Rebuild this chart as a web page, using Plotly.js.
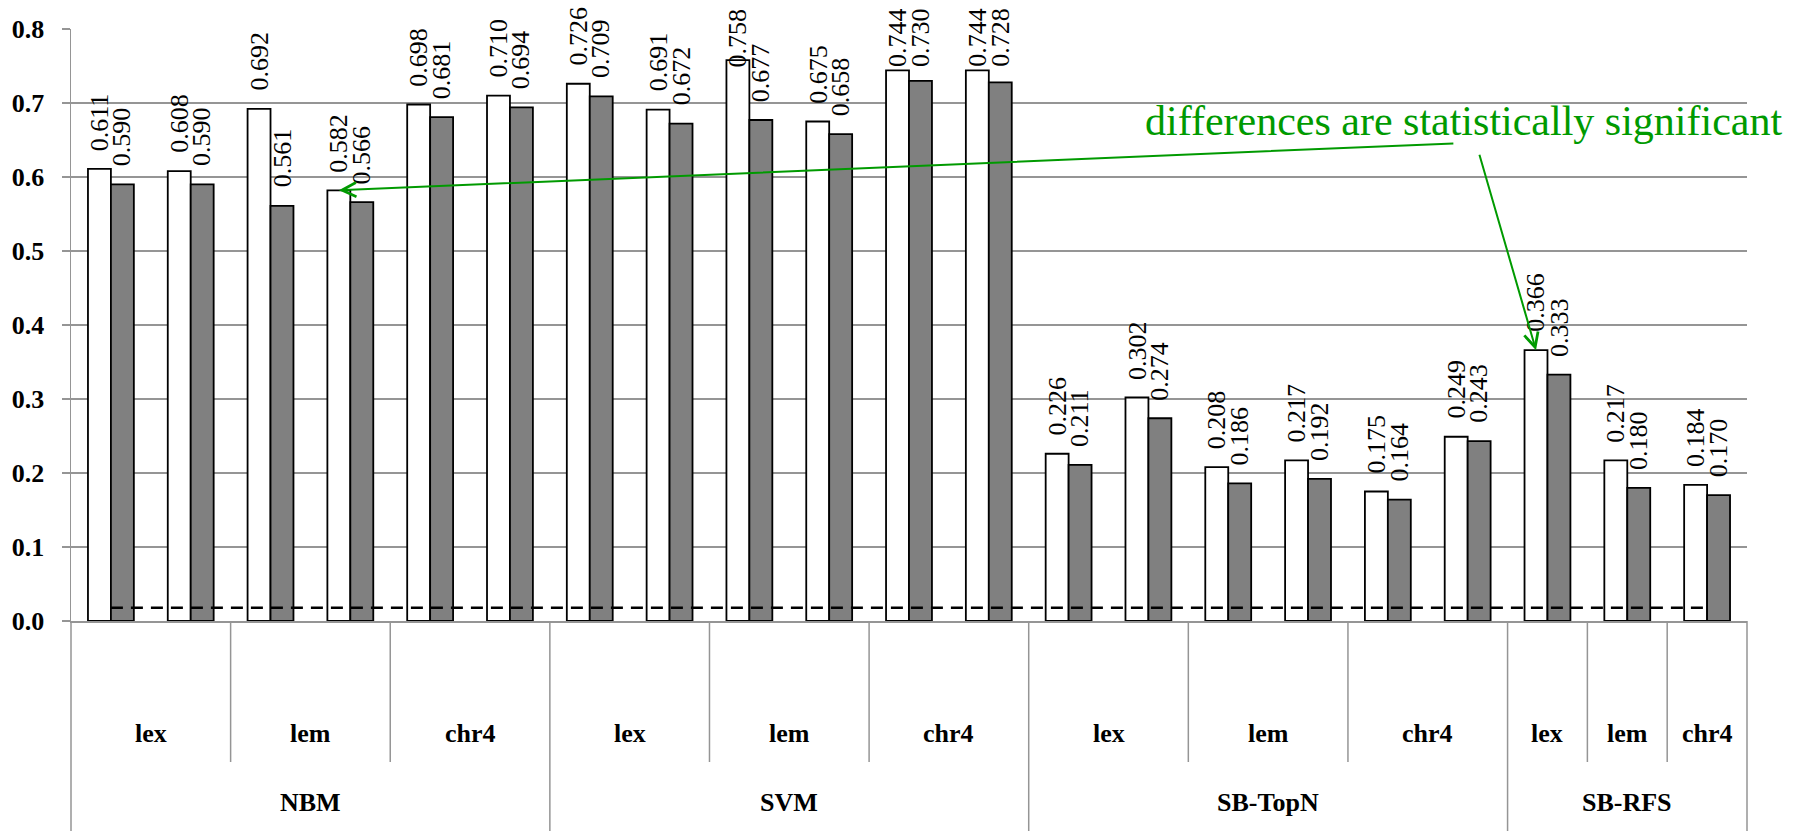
<!DOCTYPE html>
<html>
<head>
<meta charset="utf-8">
<script src="https://cdn.plot.ly/plotly-3.0.1.min.js"></script>
<style>html,body{margin:0;padding:0;background:#fff;}</style>
</head>
<body>
<div id="chart" style="width:1804px;height:831px;"></div>
<script>
// ---------------- data ----------------
const methods  = ['NBM','NBM','NBM','NBM','NBM','NBM',
                  'SVM','SVM','SVM','SVM','SVM','SVM',
                  'SB-TopN','SB-TopN','SB-TopN','SB-TopN','SB-TopN','SB-TopN',
                  'SB-RFS','SB-RFS','SB-RFS'];
const features = ['lex','lex','lem','lem','chr4','chr4',
                  'lex','lex','lem','lem','chr4','chr4',
                  'lex','lex','lem','lem','chr4','chr4',
                  'lex','lem','chr4'];
const whiteValues = [0.611,0.608,0.692,0.582,0.698,0.710,
                     0.726,0.691,0.758,0.675,0.744,0.744,
                     0.226,0.302,0.208,0.217,0.175,0.249,
                     0.366,0.217,0.184];
const grayValues  = [0.590,0.590,0.561,0.566,0.681,0.694,
                     0.709,0.672,0.677,0.658,0.730,0.728,
                     0.211,0.274,0.186,0.192,0.164,0.243,
                     0.333,0.180,0.170];
const baselineValues = [0.018,0.018,0.018,0.018,0.018,0.018,0.018,
                        0.018,0.018,0.018,0.018,0.018,0.018,0.018,
                        0.018,0.018,0.018,0.018,0.018,0.018,0.018];
const yTickValues = [0.0,0.1,0.2,0.3,0.4,0.5,0.6,0.7,0.8];
const calloutText = 'differences are statistically significant';
const calloutSlots = [3, 18];   // slots whose white bar the arrows point at

// ---------------- styling / layout constants ----------------
const W = 1804, H = 831;
const M = {l: 71, r: 57, t: 29, b: 210};
const plotH = H - M.t - M.b;
const yMax = 0.8;
const BARGAP = 0.425;
const SERIF = 'Liberation Serif, Times New Roman, Times, serif';
const GRID = '#959595';
const GREEN = '#009A00';
const LBL_SIZE = 26;
const LBL_GAP = 17;
const LBL_LEN = 2.25 * LBL_SIZE;
const TOP_LIMIT = 7;

// unique slot ids
const counter = {};
const slotIds = methods.map((m, i) => {
  const k = m + '|' + features[i];
  counter[k] = (counter[k] || 0) + 1;
  return k + '|' + counter[k];
});

const half = (1 - BARGAP) / 4;   // offset of each bar centre from slot centre

const traces = [
  {type: 'bar', name: 'white', x: slotIds, y: whiteValues,
   marker: {color: '#ffffff', line: {color: '#000000', width: 1.8}},
   hoverinfo: 'skip'},
  {type: 'bar', name: 'gray', x: slotIds, y: grayValues,
   marker: {color: '#808080', line: {color: '#000000', width: 1.8}},
   hoverinfo: 'skip'},
  {type: 'scatter', mode: 'lines', name: 'baseline', x: slotIds, y: baselineValues,
   line: {color: '#000000', width: 2.5, dash: '12px,8px'}, hoverinfo: 'skip'}
];

const annotations = [];
const shapes = [];

// value labels
[whiteValues, grayValues].forEach((vals, s) => {
  vals.forEach((v, i) => {
    const xi = i + (s === 0 ? -half : half);
    const barTopPx = M.t + (1 - v / yMax) * plotH;
    const naturalTop = barTopPx - LBL_GAP - LBL_LEN;
    const common = {text: v.toFixed(3), textangle: -90, showarrow: false,
      xref: 'x', x: xi, xanchor: 'center', borderpad: 0,
      font: {family: SERIF, size: LBL_SIZE, color: '#000'}};
    if (naturalTop < TOP_LIMIT) {
      annotations.push(Object.assign(common, {yref: 'paper', y: 1 + (M.t - TOP_LIMIT) / plotH, yanchor: 'top'}));
    } else {
      annotations.push(Object.assign(common, {yref: 'y', y: v, yanchor: 'bottom', yshift: LBL_GAP}));
    }
  });
});

// category labels & dividers
function runs(keyFn) {
  const out = [];
  let start = 0;
  for (let i = 1; i <= slotIds.length; i++) {
    if (i === slotIds.length || keyFn(i) !== keyFn(start)) {
      out.push({start: start, end: i - 1, label: keyFn(start)});
      start = i;
    }
  }
  return out;
}
const innerRuns = runs(i => methods[i] + '\u0000' + features[i]);
const outerRuns = runs(i => methods[i]);
const innerY = -(733 - 621) / plotH;
const outerY = -(802 - 621) / plotH;
const innerBottom = -(762 - 621) / plotH;
const fullBottom = -M.b / plotH;

innerRuns.forEach(r => {
  annotations.push({text: features[r.start], xref: 'x', yref: 'paper',
    x: (r.start + r.end) / 2, y: innerY, showarrow: false, xanchor: 'center', yanchor: 'middle',
    font: {family: SERIF, size: 26, color: '#000', weight: 'bold'}});
  if (r.start > 0 && methods[r.start] === methods[r.start - 1]) {
    shapes.push({type: 'line', xref: 'x', yref: 'paper', x0: r.start - 0.5, x1: r.start - 0.5,
      y0: 0, y1: innerBottom, line: {color: GRID, width: 1.5}});
  }
});
outerRuns.forEach(r => {
  annotations.push({text: r.label, xref: 'x', yref: 'paper',
    x: (r.start + r.end) / 2, y: outerY, showarrow: false, xanchor: 'center', yanchor: 'middle',
    font: {family: SERIF, size: 26, color: '#000', weight: 'bold'}});
  if (r.start > 0) {
    shapes.push({type: 'line', xref: 'x', yref: 'paper', x0: r.start - 0.5, x1: r.start - 0.5,
      y0: 0, y1: fullBottom, line: {color: GRID, width: 1.5}});
  }
});
[0, 1].forEach(px => shapes.push({type: 'line', xref: 'paper', yref: 'paper', x0: px, x1: px,
  y0: 0, y1: fullBottom, line: {color: GRID, width: 1.5}}));

// callout
annotations.push({text: calloutText, xref: 'paper', yref: 'paper',
  x: (1463 - M.l) / (W - M.l - M.r), y: (621 - 121) / plotH, xanchor: 'center', yanchor: 'middle',
  showarrow: false, font: {family: SERIF, size: 42, color: GREEN}});
const arrowTails = [[1116, -47], [-57, -197]];
calloutSlots.forEach((slot, k) => {
  annotations.push({text: '', xref: 'x', yref: 'y', x: slot - half, y: whiteValues[slot],
    showarrow: true, arrowhead: 5, arrowsize: 1.4, arrowwidth: 2, arrowcolor: GREEN,
    axref: 'pixel', ayref: 'pixel', ax: arrowTails[k][0], ay: arrowTails[k][1], standoff: 0});
});

const layout = {
  width: W, height: H,
  margin: {l: M.l, r: M.r, t: M.t, b: M.b, pad: 0},
  paper_bgcolor: '#ffffff', plot_bgcolor: '#ffffff',
  showlegend: false,
  barmode: 'group', bargap: BARGAP, bargroupgap: 0,
  font: {family: SERIF, color: '#000'},
  xaxis: {type: 'category', range: [-0.5, slotIds.length - 0.5], showticklabels: false,
    ticks: '', showgrid: false, zeroline: false, showline: true, linecolor: GRID, linewidth: 1.5,
    fixedrange: true},
  yaxis: {range: [0, yMax], tickvals: yTickValues, ticktext: yTickValues.map(v => v.toFixed(1)),
    showgrid: true, gridcolor: GRID, gridwidth: 1.5, zeroline: false,
    showline: true, linecolor: GRID, linewidth: 1.5,
    ticks: 'outside', ticklen: 8, tickwidth: 1.5, tickcolor: GRID,
    ticklabelstandoff: 12,
    tickfont: {family: SERIF, size: 26, color: '#000', weight: 'bold'}, fixedrange: true},
  annotations: annotations,
  shapes: shapes
};

Plotly.newPlot('chart', traces, layout, {staticPlot: true, displayModeBar: false});
</script>
</body>
</html>
